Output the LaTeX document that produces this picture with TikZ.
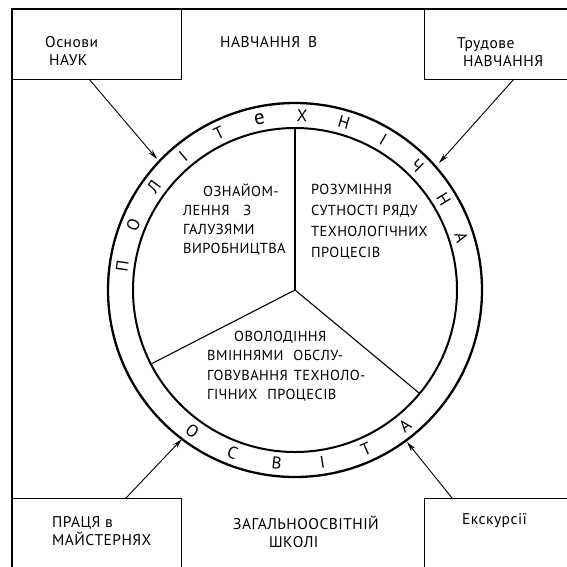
\documentclass[tikz,border=0pt]{standalone}
\usepackage{fontspec}
\setmainfont{PT Sans}
\usetikzlibrary{arrows.meta}
\begin{document}
\begin{tikzpicture}[x=1pt,y=-1pt,
  frame/.style={line width=1.4pt},
  boxed/.style={draw,frame,rectangle,inner sep=0pt,anchor=north west},
  outerring/.style={line width=2.3pt},
  innerring/.style={line width=2pt},
  spoke/.style={line width=1.1pt},
  feed/.style={line width=0.9pt,-{Stealth[length=10pt,width=5pt]}},
  boxtext/.style={font=\fontsize{15.5}{19}\selectfont\addfontfeature{LetterSpace=3},inner sep=0pt,align=left},
  sectortext/.style={font=\fontsize{14.5}{19}\selectfont\addfontfeature{LetterSpace=3},inner sep=0pt,align=left,anchor=north west},
  ringch/.style={font=\fontsize{17}{17}\selectfont,inner sep=0pt}]
\useasboundingbox (0,0) rectangle (567,566);

% outer frame (right and bottom edges run past the page)
\draw[frame] (12,9) rectangle (580,580);

% corner boxes
\node[boxed,minimum width=169pt,minimum height=70pt] (tlbox) at (12,9) {};
\node[boxed,minimum width=160pt,minimum height=70pt] (trbox) at (424,9) {};
\node[boxed,minimum width=169pt,minimum height=90pt] (blbox) at (12,498) {};
\node[boxed,minimum width=160pt,minimum height=90pt] (brbox) at (424,498) {};

\node[boxtext,anchor=west] (tltext) at (45,51) {Основи\\[-1pt]\hspace*{4pt}НАУК};
\node[boxtext,anchor=west] (trtext) at (457,52) {Трудове\\[-1pt]\hspace*{6pt}НАВЧАННЯ};
\node[boxtext,anchor=west] (bltext) at (52,531) {ПРАЦЯ в\\[-1pt]МАЙСТЕРНЯХ};
\node[boxtext,anchor=west] (brtext) at (462,521) {Екскурсії};

\node[boxtext,anchor=west] (toptext) at (220,42) {НАВЧАННЯ\hspace{8pt}В};
\node[boxtext,anchor=west] (bottomtext) at (233,532) {ЗАГАЛЬНООСВІТНІЙ\\[-1pt]\hspace*{36pt}ШКОЛІ};

% the ring
\coordinate (c) at (295,290);
\draw[outerring] (c) circle[radius=187];
\draw[innerring] (c) circle[radius=162];

% three sectors
\path (c) ++(-90:162) coordinate (sTop);
\path (c) ++(-207.2:162) coordinate (sLeft);
\path (c) ++(39.7:162) coordinate (sRight);
\draw[spoke] (c) -- (sTop);
\draw[spoke] (c) -- (sLeft);
\draw[spoke] (c) -- (sRight);

% letters round the ring
\foreach \ch [count=\i from 0] in {П,О,Л,І,Т,{\fontsize{21}{21}\selectfont е},Х,Н,І,Ч,Н,А} {
  \pgfmathsetmacro\ang{172-14.05*\i}
  \path (c) ++(-\ang:174.5) node[ringch,rotate=\ang-90] (up\i) {\ch};
}
\foreach \ch [count=\i from 0] in {О,С,В,І,Т,А} {
  \pgfmathsetmacro\ang{-126+15*\i}
  \path (c) ++(-\ang:174.5) node[ringch,rotate=\ang+90] (lo\i) {\ch};
}

% sector texts
\node[sectortext] (secA) at (183,184) {\hspace*{20pt}ОЗНАЙОМ-\\ЛЕННЯ\hspace{14pt}З\\ГАЛУЗЯМИ\\ВИРОБНИЦТВА};
\node[sectortext,font=\fontsize{14.5}{21}\selectfont\addfontfeature{LetterSpace=3}] (secB) at (311,184) {РОЗУМІННЯ\\СУТНОСТІ РЯДУ\\ТЕХНОЛОГІЧНИХ\\ПРОЦЕСІВ};
\node[sectortext,font=\fontsize{14.5}{19.3}\selectfont\addfontfeature{LetterSpace=3}] (secC) at (207,331) {\hspace*{27pt}ОВОЛОДІННЯ\\ВМІННЯМИ\hspace{10pt}ОБСЛУ-\\ГОВУВАННЯ\hspace{6pt}ТЕХНОЛО-\\ГІЧНИХ\hspace{10pt}ПРОЦЕСІВ};

% arrows from the boxes to the ring
\coordinate (fromTL) at (89,79);
\coordinate (fromTR) at (514,79);
\coordinate (fromBL) at (126,498);
\coordinate (fromBR) at (452,498);
\coordinate (toTL) at (157,159);
\coordinate (toTR) at (439,163);
\coordinate (toBL) at (182,439);
\coordinate (toBR) at (407,442);
\draw[feed] (fromTL) -- (toTL);
\draw[feed] (fromTR) -- (toTR);
\draw[feed] (fromBL) -- (toBL);
\draw[feed] (fromBR) -- (toBR);
\end{tikzpicture}
\end{document}
